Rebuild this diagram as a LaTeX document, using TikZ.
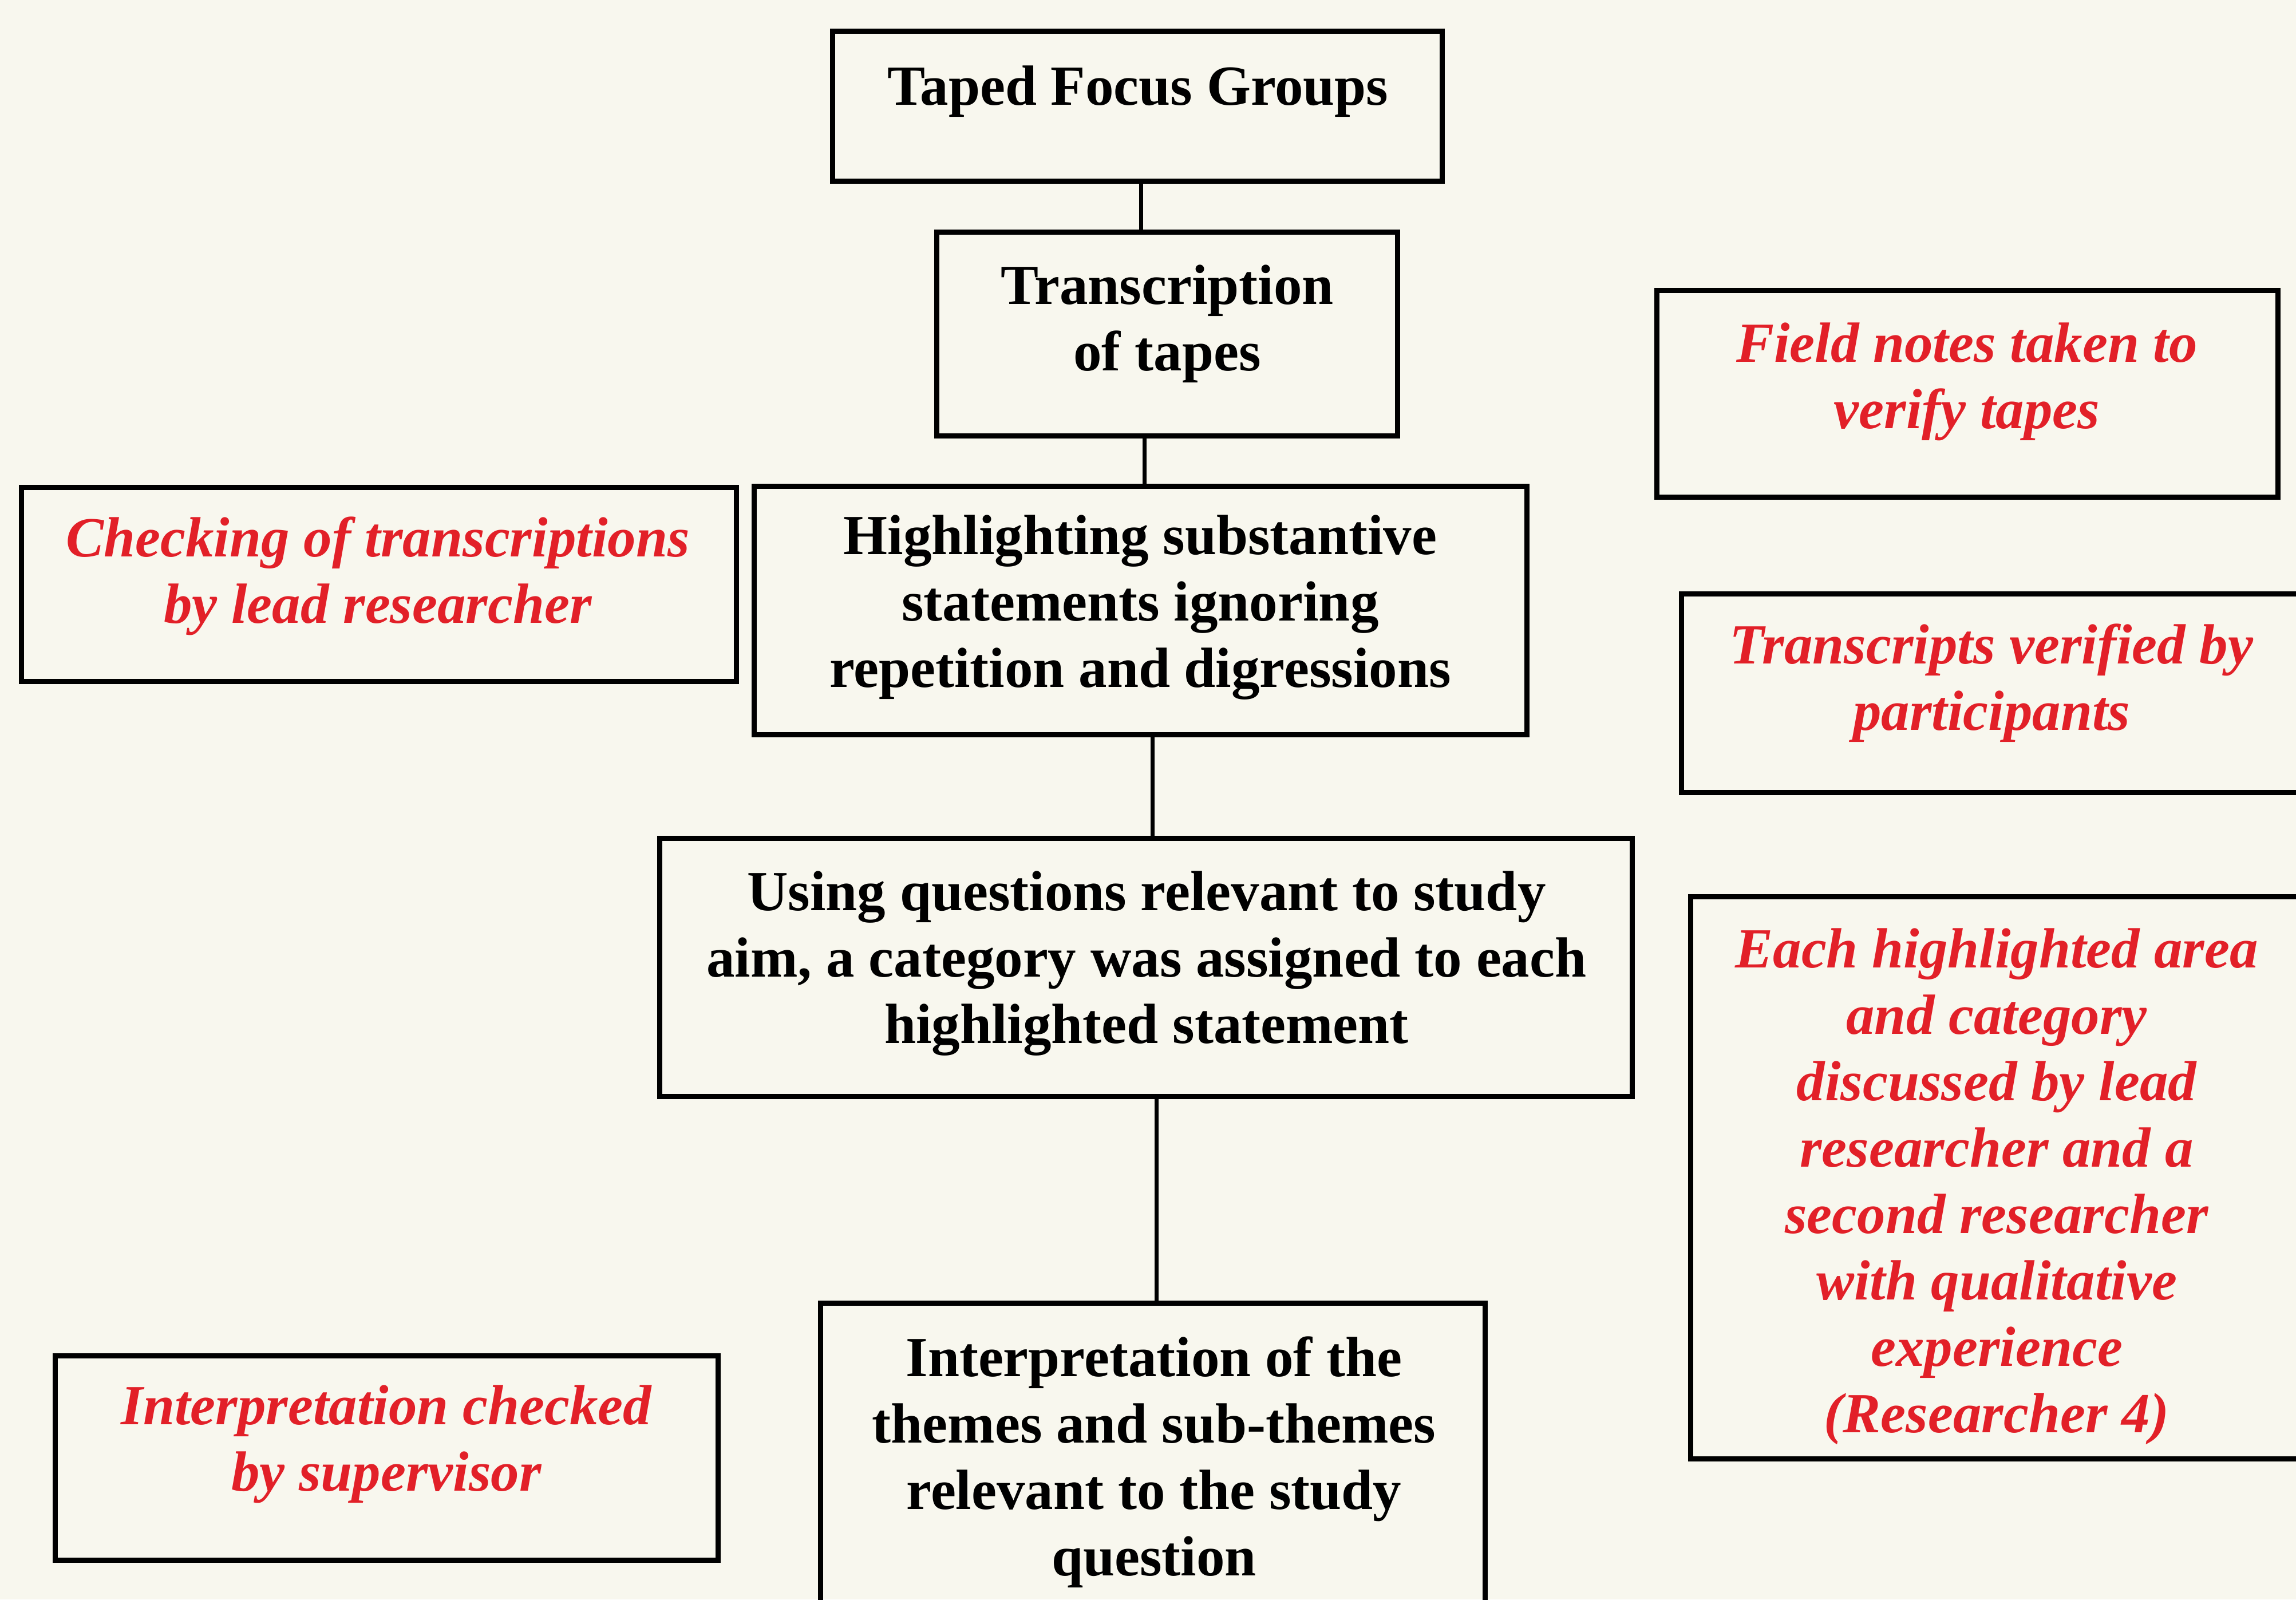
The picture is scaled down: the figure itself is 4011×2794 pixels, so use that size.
\documentclass[tikz,border=0pt]{standalone}
\usepackage{fontspec}
\setmainfont{Liberation Serif}
\definecolor{paper}{RGB}{248,247,238}
\definecolor{inkred}{RGB}{226,32,40}
\tikzset{
  stage/.style={draw=black, line width=9pt, rectangle, inner sep=0pt},
  steptext/.style={font=\fontsize{99}{116}\selectfont\bfseries, align=center, inner sep=0pt, text=black},
  checktext/.style={font=\fontsize{99}{116}\selectfont\bfseries\itshape, align=center, inner sep=0pt, text=inkred},
  link/.style={draw=black, line width=7pt}
}
\begin{document}
\begin{tikzpicture}[x=1pt, y=-1pt]
\useasboundingbox (0,0) rectangle (4011,2794);
\clip (0,0) rectangle (4011,2794);
\fill[paper] (0,0) rectangle (4011,2794);

% main sequence of stages
\node[stage, minimum width=1065pt, minimum height=261pt] (focus) at (1986.5,185.5) {};
\node[steptext] (focus-t) at (1988,160) {Taped Focus Groups};

\node[stage, minimum width=805pt, minimum height=356pt] (transc) at (2038.5,583) {};
\node[steptext] (transc-t) at (2039,566) {Transcription\\of tapes};

\node[stage, minimum width=1350pt, minimum height=434pt] (highl) at (1992,1066) {};
\node[steptext] (highl-t) at (1992,1061) {Highlighting substantive\\statements ignoring\\repetition and digressions};

\node[stage, minimum width=1699pt, minimum height=451pt] (categ) at (2001.5,1689.5) {};
\node[steptext] (categ-t) at (2003,1683) {Using questions relevant to study\\aim, a category was assigned to each\\highlighted statement};

\node[stage, minimum width=1161pt, minimum height=550pt] (interp) at (2013.5,2551) {};
\node[steptext] (interp-t) at (2016,2554) {Interpretation of the\\themes and sub-themes\\relevant to the study\\question};

% verification checks beside the stages
\node[stage, minimum width=1085pt, minimum height=361pt] (notes) at (3436.5,687.5) {};
\node[checktext] (notes-t) at (3436,667) {Field notes taken to\\verify tapes};

\node[stage, minimum width=1249pt, minimum height=339pt] (leadchk) at (661.5,1020.5) {};
\node[checktext] (leadchk-t) at (660,1006) {Checking of transcriptions\\by lead researcher};

\node[stage, minimum width=1093pt, minimum height=347pt] (partic) at (3483.5,1210.5) {};
\node[checktext] (partic-t) at (3479,1193) {Transcripts verified by\\participants};

\node[stage, minimum width=1077pt, minimum height=982pt] (second) at (3491.5,2057) {};
\node[checktext] (second-t) at (3488,2073) {Each highlighted area\\and category\\discussed by lead\\researcher and a\\second researcher\\with qualitative\\experience\\(Researcher 4)};

\node[stage, minimum width=1158pt, minimum height=357pt] (superv) at (675,2546.5) {};
\node[checktext] (superv-t) at (675,2523) {Interpretation checked\\by supervisor};

% vertical links between consecutive stages
\coordinate (c1) at (1993,0);
\coordinate (c2) at (1999,0);
\coordinate (c3) at (2013,0);
\coordinate (c4) at (2020,0);
\draw[link] (focus.south -| c1) -- (transc.north -| c1);
\draw[link] (transc.south -| c2) -- (highl.north -| c2);
\draw[link] (highl.south -| c3) -- (categ.north -| c3);
\draw[link] (categ.south -| c4) -- (interp.north -| c4);
\end{tikzpicture}
\end{document}
